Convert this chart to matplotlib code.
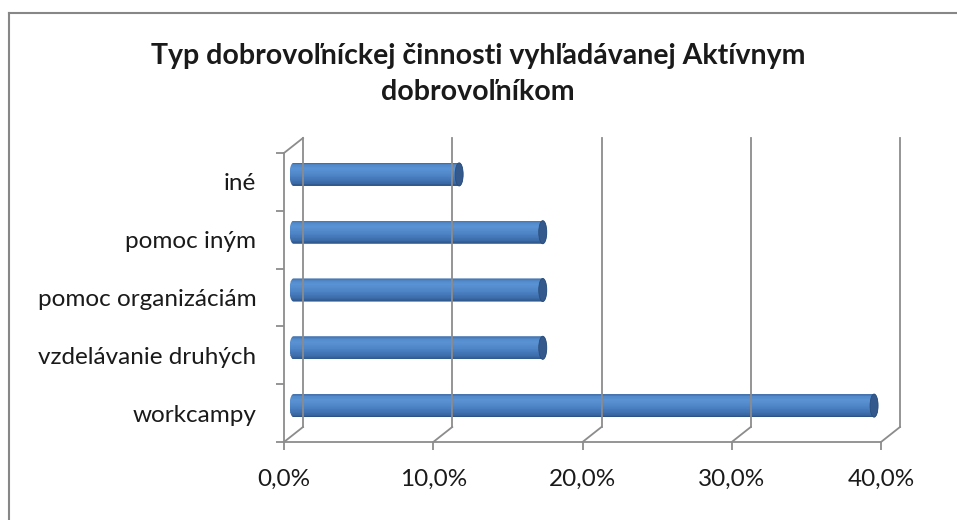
import numpy as np
import matplotlib
matplotlib.use("Agg")
import matplotlib.pyplot as plt
from matplotlib.path import Path
from matplotlib.patches import PathPatch, Ellipse
from matplotlib.lines import Line2D

plt.rcParams['font.family'] = ['Lato', 'DejaVu Sans']

# Údaje (v percentách)
kategorie = ['iné', 'pomoc iným', 'pomoc organizáciám', 'vzdelávanie druhých', 'workcampy']
hodnoty = [11.1, 16.7, 16.7, 16.7, 38.9]
x_ticky = [0, 10, 20, 30, 40]
x_popisy = ['0,0%', '10,0%', '20,0%', '30,0%', '40,0%']
nadpis = ['Typ dobrovoľníckej činnosti vyhľadávanej Aktívnym', 'dobrovoľníkom']

W, H, DPI = 957, 520, 100
fig = plt.figure(figsize=(W / DPI, H / DPI), dpi=DPI)

# predná plocha grafu v pixeloch
x0p, x1p, y0p, y1p = 284, 881, 442, 153
ax = fig.add_axes([x0p / W, 1 - y0p / H, (x1p - x0p) / W, (y0p - y1p) / H])
ax.set_xlim(0, 40)
ax.set_ylim(-0.5, 4.5)

sivá = '#8c8c8c'
px_x = 40 / (x1p - x0p)      # % na pixel
px_y = 5 / (y0p - y1p)       # kategória na pixel
dx, dy = 19 * px_x, 15 * px_y  # hĺbka 3D

for s in ['top', 'right']:
    ax.spines[s].set_visible(False)
for s in ['left', 'bottom']:
    ax.spines[s].set_color(sivá)
    ax.spines[s].set_linewidth(1.3)

ax.set_xticks(x_ticky)
ax.set_xticklabels(x_popisy)
ax.tick_params(axis='x', length=6, width=1.3, color=sivá, pad=13, labelsize=17.5, labelcolor='#1a1a1a')

n = len(kategorie)
ypos = np.arange(n)[::-1]  # iné hore
ax.set_yticks(ypos)
ax.set_yticklabels(kategorie)
ax.set_yticks(np.arange(n + 1) - 0.5, minor=True)
ax.tick_params(axis='y', which='major', length=0, pad=20, labelsize=17.5, labelcolor='#1a1a1a')
ax.tick_params(axis='y', which='minor', length=6, width=1.3, color=sivá)

# zadná stena a mriežka
for xv in x_ticky:
    ax.plot([xv, xv + dx], [-0.5, -0.5 + dy], color=sivá, lw=1.3, clip_on=False)
    ax.plot([xv + dx, xv + dx], [-0.5 + dy, 4.5 + dy], color=sivá, lw=1.3, clip_on=False)
ax.plot([0, dx], [4.5, 4.5 + dy], color=sivá, lw=1.3, clip_on=False)

# valcové pruhy
vyska = 0.4
cap_w = 8 * px_x
farby_stops = [(0.0, '#2b5082'), (0.12, '#3a69a6'), (0.45, '#4d84c6'),
               (0.75, '#5a93d5'), (0.9, '#5289ca'), (1.0, '#3c6aa6')]
pos = [p for p, c in farby_stops]
rgb = np.array([matplotlib.colors.to_rgb(c) for p, c in farby_stops])
n_pas = 30
ox, oy = dx / 2, dy / 2
t = np.linspace(np.pi / 2, 3 * np.pi / 2, 30)
t2 = np.linspace(-np.pi / 2, np.pi / 2, 30)
for yc, val in zip(ypos, hodnoty):
    yb = yc + oy
    xa, xb = ox, ox + val
    # obrys: ľavý oblúk zhora nadol, potom pravý oblúk zdola nahor
    lx = xa + cap_w / 2 * np.cos(t)
    ly = yb + vyska / 2 * np.sin(t)
    rx = xb + cap_w / 2 * np.cos(t2)
    ry = yb + vyska / 2 * np.sin(t2)
    verts = np.column_stack([np.r_[lx, rx], np.r_[ly, ry]])
    verts = np.vstack([verts, verts[:1]])
    obrys = PathPatch(Path(verts, closed=True), facecolor='none', edgecolor='none')
    ax.add_patch(obrys)
    hr = vyska / n_pas
    for k in range(n_pas):
        f = (k + 0.5) / n_pas
        c = [np.interp(f, pos, rgb[:, j]) for j in range(3)]
        bars = ax.barh(yb - vyska / 2 + k * hr, val + cap_w, left=xa - cap_w / 2,
                       height=hr * 1.05, align='edge', color=c, linewidth=0)
        for b in bars:
            b.set_clip_path(obrys)
    ax.add_patch(Ellipse((xb, yb), cap_w, vyska, facecolor='#34598c', edgecolor='#2b4d7a', lw=0.6))

ax.set_xlim(0, 40)
ax.set_ylim(-0.5, 4.5)

# nadpis
fig.text(478 / W, 1 - 64 / H, nadpis[0], ha='center', va='baseline', fontsize=20.5,
         fontweight='bold', color='#1a1a1a')
fig.text(478 / W, 1 - 100 / H, nadpis[1], ha='center', va='baseline', fontsize=20.5,
         fontweight='bold', color='#1a1a1a')

# okraj grafu
fig.add_artist(Line2D([8.5 / W, 8.5 / W], [0, 1 - 12.5 / H], color='#878787', lw=1.5))
fig.add_artist(Line2D([8.5 / W, 1], [1 - 12.5 / H, 1 - 12.5 / H], color='#878787', lw=1.5))

fig.savefig('out.png', dpi=DPI)
